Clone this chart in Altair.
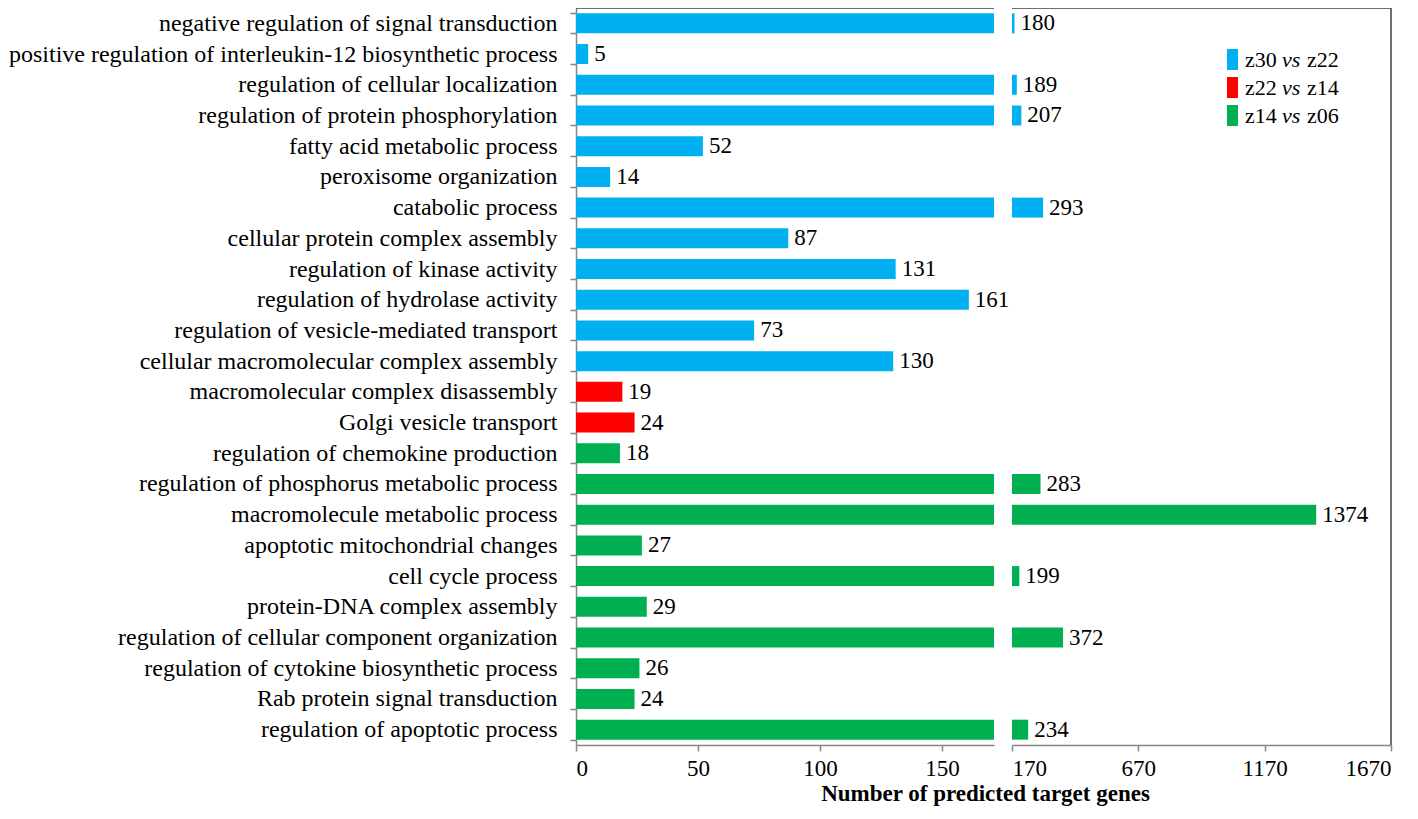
import altair as alt
import pandas as pd

# ---------------- data ----------------
categories = [
    "negative regulation of signal transduction",
    "positive regulation of interleukin-12 biosynthetic process",
    "regulation of cellular localization",
    "regulation of protein phosphorylation",
    "fatty acid metabolic process",
    "peroxisome organization",
    "catabolic process",
    "cellular protein complex assembly",
    "regulation of kinase activity",
    "regulation of hydrolase activity",
    "regulation of vesicle-mediated transport",
    "cellular macromolecular complex assembly",
    "macromolecular complex disassembly",
    "Golgi vesicle transport",
    "regulation of chemokine production",
    "regulation of phosphorus metabolic process",
    "macromolecule metabolic process",
    "apoptotic mitochondrial changes",
    "cell cycle process",
    "protein-DNA complex assembly",
    "regulation of cellular component organization",
    "regulation of cytokine biosynthetic process",
    "Rab protein signal transduction",
    "regulation of apoptotic process",
]
values = [180, 5, 189, 207, 52, 14, 293, 87, 131, 161, 73, 130,
          19, 24,
          18, 283, 1374, 27, 199, 29, 372, 26, 24, 234]
groups = (["z30 vs z22"] * 12) + (["z22 vs z14"] * 2) + (["z14 vs z06"] * 10)

series_names = ["z30 vs z22", "z22 vs z14", "z14 vs z06"]
series_colors = ["#00B0F0", "#FF0000", "#00B050"]
legend_first = ["z30", "z22", "z14"]
legend_mid = ["vs", "vs", "vs"]
legend_last = ["z22", "z14", "z06"]

left_ticks = [0, 50, 100, 150]
right_ticks = [170, 670, 1170, 1670]
LEFT_MAX = 171.3
BREAK_HI = 170
AXIS_MAX = 1670

df = pd.DataFrame({"category": categories, "value": values, "group": groups})
one = pd.DataFrame({"k": [0]})

# ---------------- style ----------------
FONT = "Liberation Serif"
W_L, W_R, H = 418, 379, 737
AXIS_GRAY = "#868686"
FRAME = "#404040"

y_scale = alt.Scale(domain=categories, paddingInner=0.35, paddingOuter=0.175)
color_enc = alt.Color("group:N", scale=alt.Scale(domain=series_names, range=series_colors), legend=None)

# ---------------- left panel ----------------
left_bars = alt.Chart(df).mark_bar(clip=True).encode(
    x=alt.X("value:Q",
            scale=alt.Scale(domain=[0, LEFT_MAX], nice=False, zero=True),
            axis=alt.Axis(values=left_ticks, format="d", title="Number of predicted target genes",
                          titleX=409, titleY=55, titleAlign="center", titleBaseline="alphabetic",
                          titleFont=FONT, titleFontSize=23, titleFontWeight="bold", titleColor="black",
                          labelFontSize=23, labelPadding=6, tickSize=6)),
    y=alt.Y("category:N", scale=y_scale,
            axis=alt.Axis(title=None, tickBand="extent", labelFontSize=24, labelPadding=13,
                          tickSize=6, labelLimit=900)),
    color=color_enc,
)
left_text = alt.Chart(df).transform_filter(alt.datum.value <= BREAK_HI).mark_text(
    align="left", baseline="middle", dx=6, font=FONT, fontSize=23, color="black"
).encode(
    x=alt.X("value:Q", scale=alt.Scale(domain=[0, LEFT_MAX], nice=False, zero=True)),
    y=alt.Y("category:N", scale=y_scale),
    text=alt.Text("value:Q"),
)
left_top = alt.Chart(one).mark_rule(color=FRAME, strokeWidth=1.5).encode(
    x=alt.value(0), x2=alt.value(W_L), y=alt.value(0)
)
left = alt.layer(left_bars, left_text, left_top).properties(width=W_L, height=H)

# ---------------- right panel ----------------
x_right = alt.X("value:Q",
                scale=alt.Scale(domain=[BREAK_HI, AXIS_MAX], nice=False, zero=False),
                axis=alt.Axis(values=right_ticks, format="d", title=None, labelFontSize=23,
                              labelPadding=6, tickSize=6))
right_bars = alt.Chart(df).transform_filter(alt.datum.value > BREAK_HI).mark_bar().encode(
    x=x_right,
    x2=alt.datum(BREAK_HI),
    y=alt.Y("category:N", scale=y_scale, axis=None),
    color=color_enc,
)
right_text = alt.Chart(df).transform_filter(alt.datum.value > BREAK_HI).mark_text(
    align="left", baseline="middle", dx=6, font=FONT, fontSize=23, color="black"
).encode(
    x=alt.X("value:Q", scale=alt.Scale(domain=[BREAK_HI, AXIS_MAX], nice=False, zero=False)),
    y=alt.Y("category:N", scale=y_scale, axis=None),
    text=alt.Text("value:Q"),
)
right_top = alt.Chart(one).mark_rule(color=FRAME, strokeWidth=1.5).encode(
    x=alt.value(0), x2=alt.value(W_R), y=alt.value(0)
)
right_side = alt.Chart(one).mark_rule(color=FRAME, strokeWidth=1.5).encode(
    x=alt.value(W_R), y=alt.value(0), y2=alt.value(H)
)

legend_layers = []
LEG_X = 215
LEG_Y0 = 51.5
LEG_DY = 28
for i in range(len(series_names)):
    yc = LEG_Y0 + i * LEG_DY
    legend_layers.append(
        alt.Chart(one).mark_rect(color=series_colors[i]).encode(
            x=alt.value(LEG_X), x2=alt.value(LEG_X + 11),
            y=alt.value(yc - 10.5), y2=alt.value(yc + 10.5))
    )
    legend_layers.append(
        alt.Chart(one).mark_text(align="left", baseline="middle", font=FONT, fontSize=22,
                                 color="black").encode(
            x=alt.value(LEG_X + 18), y=alt.value(yc), text=alt.value(legend_first[i]))
    )
    legend_layers.append(
        alt.Chart(one).mark_text(align="left", baseline="middle", font=FONT, fontSize=22,
                                 fontStyle="italic", color="black").encode(
            x=alt.value(LEG_X + 55), y=alt.value(yc), text=alt.value(legend_mid[i]))
    )
    legend_layers.append(
        alt.Chart(one).mark_text(align="left", baseline="middle", font=FONT, fontSize=22,
                                 color="black").encode(
            x=alt.value(LEG_X + 80), y=alt.value(yc), text=alt.value(legend_last[i]))
    )

right = alt.layer(right_bars, right_text, right_top, right_side, *legend_layers).properties(
    width=W_R, height=H)

chart = alt.hconcat(left, right, spacing=18, bounds="flush").properties(
    padding={"left": 0, "top": -12, "right": 5, "bottom": 5}
).configure_axis(
    labelFont=FONT, labelColor="black", domainColor=AXIS_GRAY, tickColor=AXIS_GRAY,
    domainWidth=1.5, tickWidth=1.5, grid=False,
).configure_view(stroke=None)

chart.save("out.html", embed_options={"renderer": "svg", "actions": False})
